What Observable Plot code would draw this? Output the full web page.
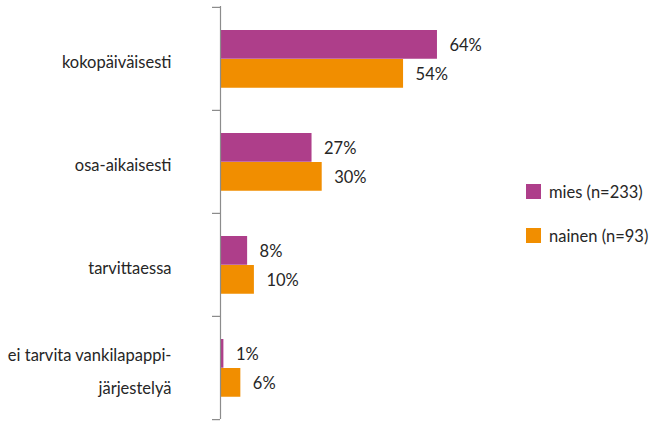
<!DOCTYPE html>
<html><head><meta charset="utf-8">
<script src="https://cdn.jsdelivr.net/npm/d3@7"></script>
<script src="https://cdn.jsdelivr.net/npm/@observablehq/plot@0.6"></script>
<style>
body{margin:0;background:#fff;}
#wrap{position:relative;width:656px;height:421px;font-family:Lato,sans-serif;}
.leg{position:absolute;left:526px;font-size:16.5px;color:#262626;display:flex;align-items:center;height:15px;white-space:nowrap;}
.sw{width:15px;height:15px;margin-right:8px;flex:none;}
</style></head><body><div id="wrap"></div>
<script>
const categories = ["kokopäiväisesti", "osa-aikaisesti", "tarvittaessa", "ei tarvita vankilapappi-järjestelyä"];
const tickLabels = ["kokopäiväisesti", "osa-aikaisesti", "tarvittaessa", "ei tarvita vankilapappi-\njärjestelyä"];
const series = ["mies (n=233)", "nainen (n=93)"];
const mies = [64, 27, 8, 1];
const nainen = [54, 30, 10, 6];
const colors = ["#AE3E8A", "#F18E00"];

const rowsM = categories.map((c, i) => ({c, s: series[0], v: mies[i]}));
const rowsN = categories.map((c, i) => ({c, s: series[1], v: nainen[i]}));

const W = 656, H = 421, mt = 6, mb = 2, ml = 220, mr = 97;
const bw = (H - mt - mb) / categories.length;

const chart = Plot.plot({
  width: W, height: H,
  marginTop: mt, marginBottom: mb, marginLeft: ml, marginRight: mr,
  style: {fontFamily: "Lato, sans-serif", fontSize: "16px", color: "#262626", background: "white", overflow: "visible"},
  x: {domain: [0, 100], axis: null},
  y: {domain: categories, padding: 0, label: null},
  color: {domain: series, range: colors},
  marks: [
    Plot.barX(rowsM, {x: "v", y: "c", fill: "s", insetTop: 23, insetBottom: bw - 52}),
    Plot.barX(rowsN, {x: "v", y: "c", fill: "s", insetTop: 52, insetBottom: bw - 81}),
    Plot.text(rowsM, {x: "v", y: "c", text: d => d.v + "%", textAnchor: "start", dx: 12, dy: -13, fill: "#262626", fontSize: 16.5}),
    Plot.text(rowsN, {x: "v", y: "c", text: d => d.v + "%", textAnchor: "start", dx: 12, dy: 16, fill: "#262626", fontSize: 16.5}),
    Plot.ruleX([0], {stroke: "#8c8c8c", strokeWidth: 1.2}),
    Plot.axisY({tickSize: 8, stroke: "#8c8c8c", strokeWidth: 1.2, dy: -bw / 2, tickFormat: () => "", label: null}),
    Plot.axisY([categories[categories.length - 1]], {tickSize: 8, stroke: "#8c8c8c", strokeWidth: 1.2, dy: bw / 2, tickFormat: () => "", label: null}),
    Plot.axisY({tickSize: 0, tickPadding: 43, dx: -6, lineHeight: 2.0, fontSize: 16.5, fill: "#262626", dy: -1.2, label: null,
      tickFormat: d => tickLabels[categories.indexOf(d)]})
  ]
});
const wrap = document.getElementById("wrap");
wrap.appendChild(chart);
const legTops = [184, 228];
series.forEach((s, i) => {
  const el = document.createElement("div");
  el.className = "leg";
  el.style.top = legTops[i] + "px";
  const sw = document.createElement("div");
  sw.className = "sw";
  sw.style.background = colors[i];
  el.appendChild(sw);
  el.appendChild(document.createTextNode(s));
  wrap.appendChild(el);
});
</script></body></html>
